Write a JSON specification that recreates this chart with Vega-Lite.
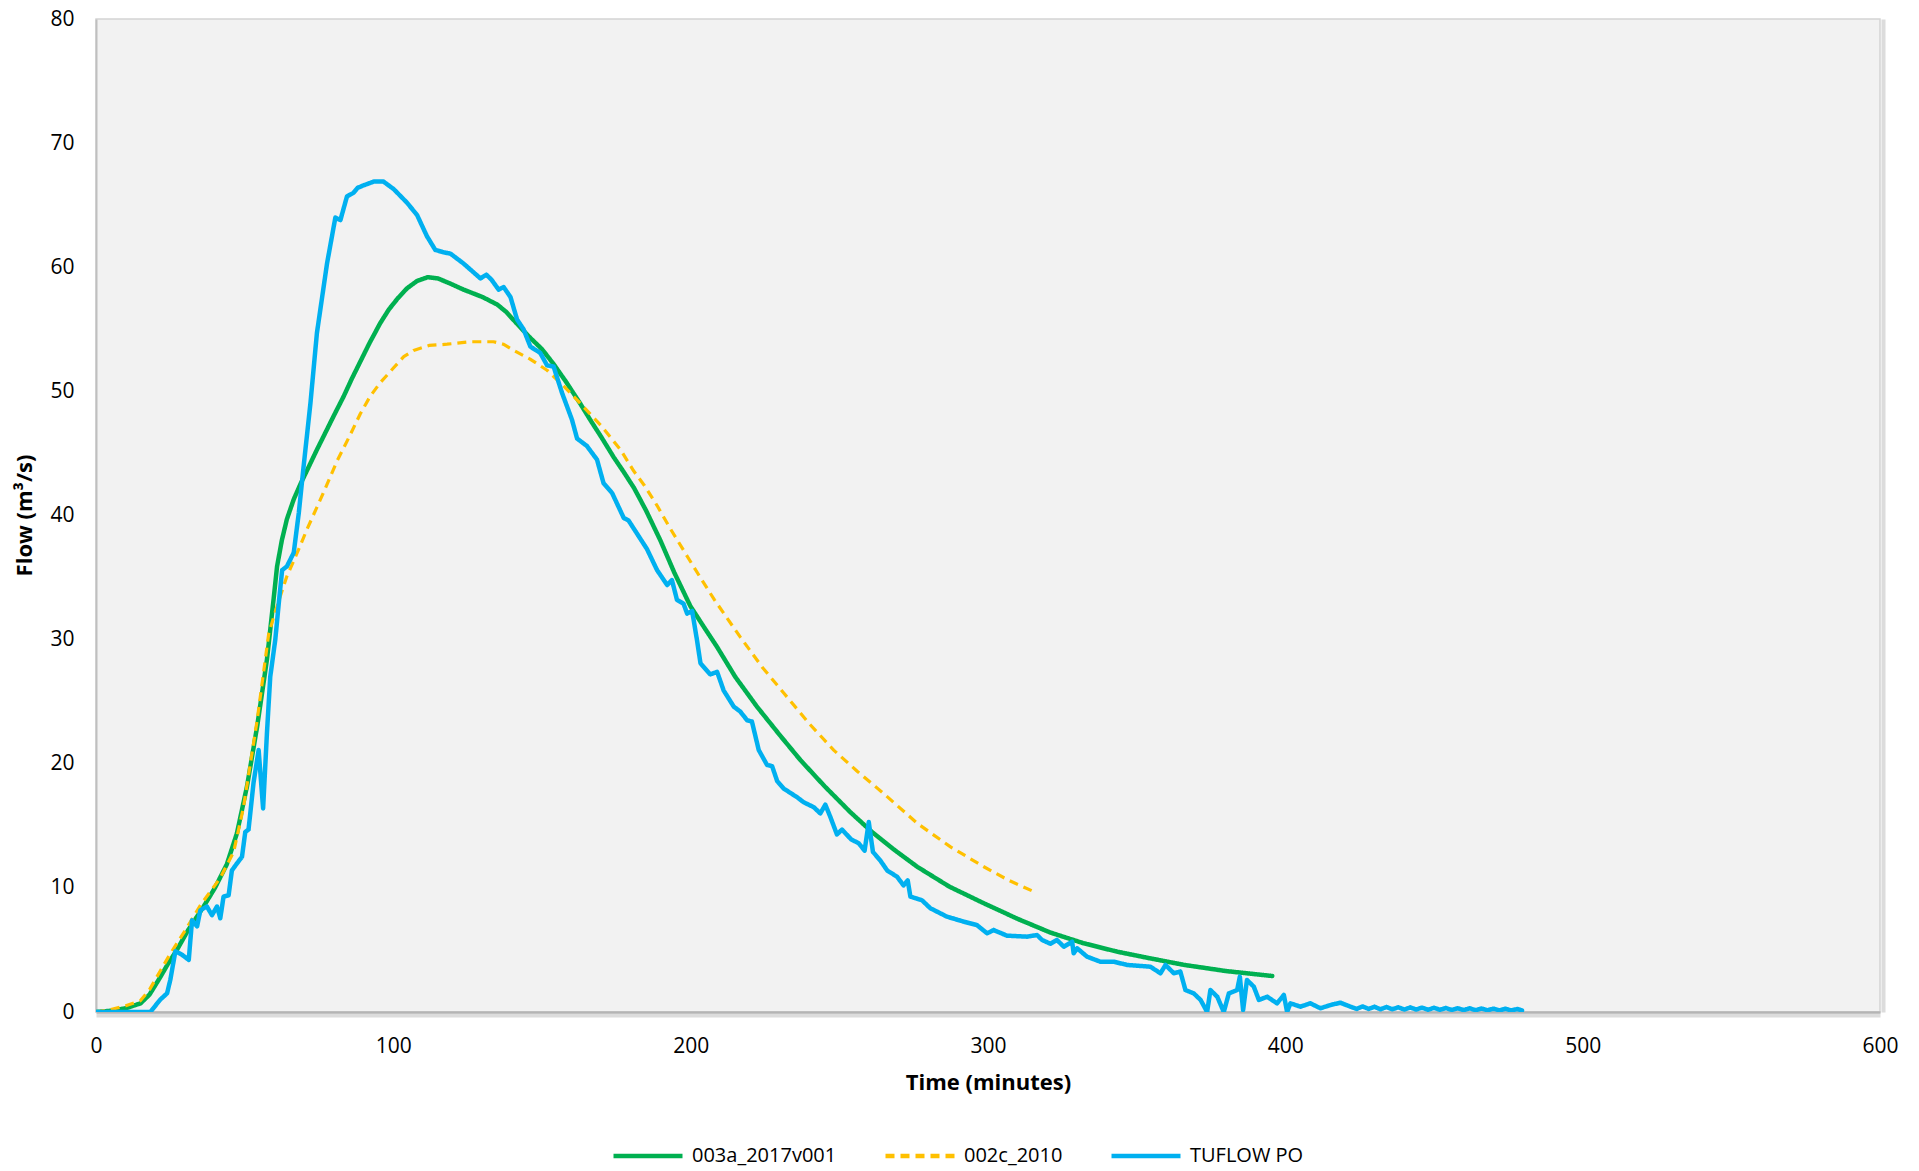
{
  "$schema": "https://vega.github.io/schema/vega-lite/v6.json",
  "autosize": "none",
  "width": 1784,
  "height": 993,
  "padding": {"left": 96, "top": 19, "right": 39, "bottom": 159},
  "background": "white",
  "config": {
    "font": "Open Sans",
    "view": {"fill": "#f2f2f2", "stroke": "#d4d4d4", "strokeWidth": 1.5},
    "axis": {
      "labelFont": "Open Sans",
      "labelFontSize": 21,
      "labelColor": "#000000",
      "labelFlush": false,
      "titleFont": "Open Sans",
      "titleFontSize": 22,
      "titleFontWeight": "bold",
      "titleColor": "#000000",
      "gridColor": "#d9d9d9",
      "gridWidth": 1.5,
      "tickSize": 0,
      "ticks": false
    },
    "legend": {
      "orient": "none",
      "legendX": 515,
      "legendY": 1100,
      "direction": "horizontal",
      "symbolType": "stroke",
      "symbolSize": 4761,
      "symbolStrokeWidth": 4.5,
      "labelFont": "Open Sans",
      "labelFontSize": 20,
      "labelColor": "#000000",
      "labelOffset": 7,
      "columnPadding": 39,
      "title": null
    }
  },
  "datasets": {
    "flows": [
      {"series": "003a_2017v001", "t": 0, "q": 0},
      {"series": "003a_2017v001", "t": 5, "q": 0.1},
      {"series": "003a_2017v001", "t": 10, "q": 0.3},
      {"series": "003a_2017v001", "t": 15, "q": 0.7},
      {"series": "003a_2017v001", "t": 18, "q": 1.4},
      {"series": "003a_2017v001", "t": 21.6, "q": 2.8},
      {"series": "003a_2017v001", "t": 24, "q": 3.8},
      {"series": "003a_2017v001", "t": 27.2, "q": 5.0},
      {"series": "003a_2017v001", "t": 31, "q": 6.6},
      {"series": "003a_2017v001", "t": 36.2, "q": 8.5},
      {"series": "003a_2017v001", "t": 40, "q": 10.0},
      {"series": "003a_2017v001", "t": 44, "q": 11.9},
      {"series": "003a_2017v001", "t": 47.4, "q": 14.4},
      {"series": "003a_2017v001", "t": 50.8, "q": 18.2},
      {"series": "003a_2017v001", "t": 54.2, "q": 23.0},
      {"series": "003a_2017v001", "t": 57.5, "q": 28.4},
      {"series": "003a_2017v001", "t": 59.7, "q": 33.2},
      {"series": "003a_2017v001", "t": 60.9, "q": 35.9},
      {"series": "003a_2017v001", "t": 62.5, "q": 38.0},
      {"series": "003a_2017v001", "t": 64.2, "q": 39.7},
      {"series": "003a_2017v001", "t": 66.5, "q": 41.3},
      {"series": "003a_2017v001", "t": 68.7, "q": 42.5},
      {"series": "003a_2017v001", "t": 71.5, "q": 43.9},
      {"series": "003a_2017v001", "t": 74.3, "q": 45.3},
      {"series": "003a_2017v001", "t": 77, "q": 46.6},
      {"series": "003a_2017v001", "t": 79.9, "q": 48.0},
      {"series": "003a_2017v001", "t": 83.3, "q": 49.6},
      {"series": "003a_2017v001", "t": 86, "q": 51.0},
      {"series": "003a_2017v001", "t": 88.9, "q": 52.4},
      {"series": "003a_2017v001", "t": 92, "q": 53.9},
      {"series": "003a_2017v001", "t": 95.6, "q": 55.5},
      {"series": "003a_2017v001", "t": 98.5, "q": 56.6},
      {"series": "003a_2017v001", "t": 101.5, "q": 57.5},
      {"series": "003a_2017v001", "t": 104.6, "q": 58.3},
      {"series": "003a_2017v001", "t": 108, "q": 58.9},
      {"series": "003a_2017v001", "t": 111.6, "q": 59.2},
      {"series": "003a_2017v001", "t": 115, "q": 59.1},
      {"series": "003a_2017v001", "t": 119, "q": 58.7},
      {"series": "003a_2017v001", "t": 123.6, "q": 58.2},
      {"series": "003a_2017v001", "t": 130, "q": 57.6},
      {"series": "003a_2017v001", "t": 134.9, "q": 57.0},
      {"series": "003a_2017v001", "t": 138, "q": 56.4},
      {"series": "003a_2017v001", "t": 141, "q": 55.6},
      {"series": "003a_2017v001", "t": 146.1, "q": 54.3},
      {"series": "003a_2017v001", "t": 150, "q": 53.4},
      {"series": "003a_2017v001", "t": 153.9, "q": 52.2},
      {"series": "003a_2017v001", "t": 158, "q": 50.8},
      {"series": "003a_2017v001", "t": 162.9, "q": 49.0},
      {"series": "003a_2017v001", "t": 166.5, "q": 47.6},
      {"series": "003a_2017v001", "t": 170, "q": 46.3},
      {"series": "003a_2017v001", "t": 174.1, "q": 44.7},
      {"series": "003a_2017v001", "t": 177.5, "q": 43.5},
      {"series": "003a_2017v001", "t": 181, "q": 42.2},
      {"series": "003a_2017v001", "t": 185, "q": 40.4},
      {"series": "003a_2017v001", "t": 189.8, "q": 38.0},
      {"series": "003a_2017v001", "t": 194.5, "q": 35.4},
      {"series": "003a_2017v001", "t": 199.9, "q": 32.7},
      {"series": "003a_2017v001", "t": 204.5, "q": 31.0},
      {"series": "003a_2017v001", "t": 208.9, "q": 29.4},
      {"series": "003a_2017v001", "t": 215, "q": 27.0},
      {"series": "003a_2017v001", "t": 222.3, "q": 24.6},
      {"series": "003a_2017v001", "t": 230, "q": 22.3},
      {"series": "003a_2017v001", "t": 236.9, "q": 20.3},
      {"series": "003a_2017v001", "t": 245, "q": 18.2},
      {"series": "003a_2017v001", "t": 253.7, "q": 16.1},
      {"series": "003a_2017v001", "t": 261, "q": 14.5},
      {"series": "003a_2017v001", "t": 268.3, "q": 13.1},
      {"series": "003a_2017v001", "t": 276.2, "q": 11.7},
      {"series": "003a_2017v001", "t": 287, "q": 10.1},
      {"series": "003a_2017v001", "t": 298.6, "q": 8.76},
      {"series": "003a_2017v001", "t": 310, "q": 7.5},
      {"series": "003a_2017v001", "t": 321, "q": 6.4},
      {"series": "003a_2017v001", "t": 332, "q": 5.55},
      {"series": "003a_2017v001", "t": 343.4, "q": 4.86},
      {"series": "003a_2017v001", "t": 355, "q": 4.3},
      {"series": "003a_2017v001", "t": 365.8, "q": 3.8},
      {"series": "003a_2017v001", "t": 380, "q": 3.3},
      {"series": "003a_2017v001", "t": 395.6, "q": 2.9},

      {"series": "002c_2010", "t": 0, "q": 0},
      {"series": "002c_2010", "t": 5, "q": 0.2},
      {"series": "002c_2010", "t": 10, "q": 0.5},
      {"series": "002c_2010", "t": 14.9, "q": 0.9},
      {"series": "002c_2010", "t": 18, "q": 1.8},
      {"series": "002c_2010", "t": 21.6, "q": 3.3},
      {"series": "002c_2010", "t": 25, "q": 4.7},
      {"series": "002c_2010", "t": 30.6, "q": 6.8},
      {"series": "002c_2010", "t": 35.1, "q": 8.6},
      {"series": "002c_2010", "t": 41.8, "q": 10.8},
      {"series": "002c_2010", "t": 46.3, "q": 12.9},
      {"series": "002c_2010", "t": 49.6, "q": 16.5},
      {"series": "002c_2010", "t": 54.2, "q": 23.5},
      {"series": "002c_2010", "t": 58.1, "q": 30.5},
      {"series": "002c_2010", "t": 60.9, "q": 32.7},
      {"series": "002c_2010", "t": 64.2, "q": 35.1},
      {"series": "002c_2010", "t": 67.5, "q": 36.9},
      {"series": "002c_2010", "t": 71, "q": 38.9},
      {"series": "002c_2010", "t": 76.6, "q": 41.9},
      {"series": "002c_2010", "t": 81.1, "q": 44.4},
      {"series": "002c_2010", "t": 85.5, "q": 46.5},
      {"series": "002c_2010", "t": 88.9, "q": 48.2},
      {"series": "002c_2010", "t": 92.2, "q": 49.6},
      {"series": "002c_2010", "t": 95.6, "q": 50.7},
      {"series": "002c_2010", "t": 100.1, "q": 51.9},
      {"series": "002c_2010", "t": 103.5, "q": 52.8},
      {"series": "002c_2010", "t": 106.8, "q": 53.3},
      {"series": "002c_2010", "t": 112, "q": 53.7},
      {"series": "002c_2010", "t": 118.1, "q": 53.8},
      {"series": "002c_2010", "t": 126, "q": 54.0},
      {"series": "002c_2010", "t": 133.7, "q": 54.0},
      {"series": "002c_2010", "t": 137, "q": 53.8},
      {"series": "002c_2010", "t": 140.5, "q": 53.3},
      {"series": "002c_2010", "t": 146, "q": 52.6},
      {"series": "002c_2010", "t": 151.7, "q": 51.7},
      {"series": "002c_2010", "t": 157, "q": 50.5},
      {"series": "002c_2010", "t": 163, "q": 49.0},
      {"series": "002c_2010", "t": 170, "q": 47.2},
      {"series": "002c_2010", "t": 176.4, "q": 45.3},
      {"series": "002c_2010", "t": 180.8, "q": 43.6},
      {"series": "002c_2010", "t": 184.5, "q": 42.4},
      {"series": "002c_2010", "t": 188.7, "q": 40.8},
      {"series": "002c_2010", "t": 193, "q": 39.0},
      {"series": "002c_2010", "t": 197.6, "q": 37.2},
      {"series": "002c_2010", "t": 203, "q": 35.1},
      {"series": "002c_2010", "t": 208, "q": 33.2},
      {"series": "002c_2010", "t": 216.7, "q": 30.2},
      {"series": "002c_2010", "t": 224, "q": 27.8},
      {"series": "002c_2010", "t": 231.3, "q": 25.7},
      {"series": "002c_2010", "t": 240, "q": 23.2},
      {"series": "002c_2010", "t": 248.1, "q": 21.1},
      {"series": "002c_2010", "t": 256, "q": 19.4},
      {"series": "002c_2010", "t": 264.9, "q": 17.6},
      {"series": "002c_2010", "t": 276.2, "q": 15.2},
      {"series": "002c_2010", "t": 287.4, "q": 13.3},
      {"series": "002c_2010", "t": 298.6, "q": 11.7},
      {"series": "002c_2010", "t": 307, "q": 10.6},
      {"series": "002c_2010", "t": 315.9, "q": 9.65},

      {"series": "TUFLOW PO", "t": 0, "q": 0},
      {"series": "TUFLOW PO", "t": 10, "q": 0},
      {"series": "TUFLOW PO", "t": 18.3, "q": 0},
      {"series": "TUFLOW PO", "t": 21.6, "q": 1.0},
      {"series": "TUFLOW PO", "t": 23.9, "q": 1.5},
      {"series": "TUFLOW PO", "t": 25, "q": 2.6},
      {"series": "TUFLOW PO", "t": 26.7, "q": 4.9},
      {"series": "TUFLOW PO", "t": 29, "q": 4.6},
      {"series": "TUFLOW PO", "t": 31.2, "q": 4.2},
      {"series": "TUFLOW PO", "t": 32.3, "q": 7.4},
      {"series": "TUFLOW PO", "t": 34, "q": 6.9},
      {"series": "TUFLOW PO", "t": 35.1, "q": 8.2},
      {"series": "TUFLOW PO", "t": 37.3, "q": 8.5},
      {"series": "TUFLOW PO", "t": 39, "q": 7.8},
      {"series": "TUFLOW PO", "t": 40.7, "q": 8.5},
      {"series": "TUFLOW PO", "t": 41.8, "q": 7.55},
      {"series": "TUFLOW PO", "t": 42.9, "q": 9.3},
      {"series": "TUFLOW PO", "t": 44.6, "q": 9.4},
      {"series": "TUFLOW PO", "t": 45.7, "q": 11.4},
      {"series": "TUFLOW PO", "t": 47.5, "q": 12.0},
      {"series": "TUFLOW PO", "t": 49.1, "q": 12.5},
      {"series": "TUFLOW PO", "t": 50.2, "q": 14.5},
      {"series": "TUFLOW PO", "t": 51.3, "q": 14.7},
      {"series": "TUFLOW PO", "t": 53, "q": 18.5},
      {"series": "TUFLOW PO", "t": 54.7, "q": 21.1},
      {"series": "TUFLOW PO", "t": 56.2, "q": 16.4},
      {"series": "TUFLOW PO", "t": 57.5, "q": 22.5},
      {"series": "TUFLOW PO", "t": 58.6, "q": 27.0},
      {"series": "TUFLOW PO", "t": 60.3, "q": 30.0},
      {"series": "TUFLOW PO", "t": 61.5, "q": 33.0},
      {"series": "TUFLOW PO", "t": 62.6, "q": 35.6},
      {"series": "TUFLOW PO", "t": 64.2, "q": 35.9},
      {"series": "TUFLOW PO", "t": 66.5, "q": 37.0},
      {"series": "TUFLOW PO", "t": 68.2, "q": 40.2},
      {"series": "TUFLOW PO", "t": 69.8, "q": 43.9},
      {"series": "TUFLOW PO", "t": 72.1, "q": 49.0},
      {"series": "TUFLOW PO", "t": 74.3, "q": 54.7},
      {"series": "TUFLOW PO", "t": 77.7, "q": 60.3},
      {"series": "TUFLOW PO", "t": 80.5, "q": 64.0},
      {"series": "TUFLOW PO", "t": 82.2, "q": 63.8},
      {"series": "TUFLOW PO", "t": 84.4, "q": 65.7},
      {"series": "TUFLOW PO", "t": 86.6, "q": 66.0},
      {"series": "TUFLOW PO", "t": 88, "q": 66.4},
      {"series": "TUFLOW PO", "t": 90, "q": 66.6},
      {"series": "TUFLOW PO", "t": 93.4, "q": 66.9},
      {"series": "TUFLOW PO", "t": 96.7, "q": 66.9},
      {"series": "TUFLOW PO", "t": 100.1, "q": 66.3},
      {"series": "TUFLOW PO", "t": 104.6, "q": 65.2},
      {"series": "TUFLOW PO", "t": 108, "q": 64.2},
      {"series": "TUFLOW PO", "t": 111.3, "q": 62.5},
      {"series": "TUFLOW PO", "t": 114.1, "q": 61.4},
      {"series": "TUFLOW PO", "t": 116.9, "q": 61.2},
      {"series": "TUFLOW PO", "t": 119.2, "q": 61.1},
      {"series": "TUFLOW PO", "t": 123.6, "q": 60.3},
      {"series": "TUFLOW PO", "t": 129.3, "q": 59.1},
      {"series": "TUFLOW PO", "t": 131.3, "q": 59.4},
      {"series": "TUFLOW PO", "t": 133, "q": 59.0},
      {"series": "TUFLOW PO", "t": 135.4, "q": 58.2},
      {"series": "TUFLOW PO", "t": 137.1, "q": 58.4},
      {"series": "TUFLOW PO", "t": 139.4, "q": 57.6},
      {"series": "TUFLOW PO", "t": 141.6, "q": 55.8},
      {"series": "TUFLOW PO", "t": 143.8, "q": 55.0},
      {"series": "TUFLOW PO", "t": 146.1, "q": 53.6},
      {"series": "TUFLOW PO", "t": 149.4, "q": 53.1},
      {"series": "TUFLOW PO", "t": 151.7, "q": 52.1},
      {"series": "TUFLOW PO", "t": 153.9, "q": 52.0},
      {"series": "TUFLOW PO", "t": 156.7, "q": 49.9},
      {"series": "TUFLOW PO", "t": 160.1, "q": 47.7},
      {"series": "TUFLOW PO", "t": 161.8, "q": 46.2},
      {"series": "TUFLOW PO", "t": 165.1, "q": 45.6},
      {"series": "TUFLOW PO", "t": 168.5, "q": 44.5},
      {"series": "TUFLOW PO", "t": 170.7, "q": 42.6},
      {"series": "TUFLOW PO", "t": 173.6, "q": 41.8},
      {"series": "TUFLOW PO", "t": 177.5, "q": 39.8},
      {"series": "TUFLOW PO", "t": 179.1, "q": 39.6},
      {"series": "TUFLOW PO", "t": 185.3, "q": 37.3},
      {"series": "TUFLOW PO", "t": 188.7, "q": 35.6},
      {"series": "TUFLOW PO", "t": 192.1, "q": 34.4},
      {"series": "TUFLOW PO", "t": 193.7, "q": 34.8},
      {"series": "TUFLOW PO", "t": 195.4, "q": 33.2},
      {"series": "TUFLOW PO", "t": 197.6, "q": 32.9},
      {"series": "TUFLOW PO", "t": 198.8, "q": 32.1},
      {"series": "TUFLOW PO", "t": 200.5, "q": 32.3},
      {"series": "TUFLOW PO", "t": 202.1, "q": 30.0},
      {"series": "TUFLOW PO", "t": 203.3, "q": 28.1},
      {"series": "TUFLOW PO", "t": 206.6, "q": 27.2},
      {"series": "TUFLOW PO", "t": 208.9, "q": 27.4},
      {"series": "TUFLOW PO", "t": 211.1, "q": 25.9},
      {"series": "TUFLOW PO", "t": 214.5, "q": 24.6},
      {"series": "TUFLOW PO", "t": 216.7, "q": 24.2},
      {"series": "TUFLOW PO", "t": 219, "q": 23.5},
      {"series": "TUFLOW PO", "t": 220.6, "q": 23.4},
      {"series": "TUFLOW PO", "t": 222.9, "q": 21.1},
      {"series": "TUFLOW PO", "t": 225.7, "q": 19.9},
      {"series": "TUFLOW PO", "t": 227.4, "q": 19.8},
      {"series": "TUFLOW PO", "t": 229.1, "q": 18.6},
      {"series": "TUFLOW PO", "t": 231.3, "q": 18.0},
      {"series": "TUFLOW PO", "t": 235.8, "q": 17.3},
      {"series": "TUFLOW PO", "t": 238, "q": 16.9},
      {"series": "TUFLOW PO", "t": 241.4, "q": 16.5},
      {"series": "TUFLOW PO", "t": 243.6, "q": 16.0},
      {"series": "TUFLOW PO", "t": 245.3, "q": 16.7},
      {"series": "TUFLOW PO", "t": 247, "q": 15.7},
      {"series": "TUFLOW PO", "t": 249.2, "q": 14.3},
      {"series": "TUFLOW PO", "t": 250.9, "q": 14.7},
      {"series": "TUFLOW PO", "t": 254, "q": 13.9},
      {"series": "TUFLOW PO", "t": 256.5, "q": 13.6},
      {"series": "TUFLOW PO", "t": 258.5, "q": 13.0},
      {"series": "TUFLOW PO", "t": 259.9, "q": 15.3},
      {"series": "TUFLOW PO", "t": 261.3, "q": 12.9},
      {"series": "TUFLOW PO", "t": 263.8, "q": 12.2},
      {"series": "TUFLOW PO", "t": 266.1, "q": 11.4},
      {"series": "TUFLOW PO", "t": 269.4, "q": 10.9},
      {"series": "TUFLOW PO", "t": 271.6, "q": 10.2},
      {"series": "TUFLOW PO", "t": 273, "q": 10.6},
      {"series": "TUFLOW PO", "t": 273.9, "q": 9.3},
      {"series": "TUFLOW PO", "t": 277.8, "q": 9.0},
      {"series": "TUFLOW PO", "t": 280.6, "q": 8.36},
      {"series": "TUFLOW PO", "t": 286.2, "q": 7.68},
      {"series": "TUFLOW PO", "t": 291.8, "q": 7.28},
      {"series": "TUFLOW PO", "t": 296.3, "q": 7.0},
      {"series": "TUFLOW PO", "t": 299.7, "q": 6.34},
      {"series": "TUFLOW PO", "t": 301.9, "q": 6.6},
      {"series": "TUFLOW PO", "t": 306.4, "q": 6.15},
      {"series": "TUFLOW PO", "t": 313.1, "q": 6.07},
      {"series": "TUFLOW PO", "t": 316.5, "q": 6.2},
      {"series": "TUFLOW PO", "t": 318.2, "q": 5.8},
      {"series": "TUFLOW PO", "t": 321, "q": 5.5},
      {"series": "TUFLOW PO", "t": 323.2, "q": 5.8},
      {"series": "TUFLOW PO", "t": 325.5, "q": 5.26},
      {"series": "TUFLOW PO", "t": 328.3, "q": 5.66},
      {"series": "TUFLOW PO", "t": 328.8, "q": 4.73},
      {"series": "TUFLOW PO", "t": 330, "q": 5.13},
      {"series": "TUFLOW PO", "t": 333.3, "q": 4.46},
      {"series": "TUFLOW PO", "t": 337.8, "q": 4.05},
      {"series": "TUFLOW PO", "t": 342.3, "q": 4.05},
      {"series": "TUFLOW PO", "t": 346.8, "q": 3.79},
      {"series": "TUFLOW PO", "t": 354.6, "q": 3.65},
      {"series": "TUFLOW PO", "t": 358, "q": 3.12},
      {"series": "TUFLOW PO", "t": 359.7, "q": 3.79},
      {"series": "TUFLOW PO", "t": 362.5, "q": 3.12},
      {"series": "TUFLOW PO", "t": 364.7, "q": 3.25},
      {"series": "TUFLOW PO", "t": 366.4, "q": 1.77},
      {"series": "TUFLOW PO", "t": 369.2, "q": 1.5},
      {"series": "TUFLOW PO", "t": 371.5, "q": 0.97},
      {"series": "TUFLOW PO", "t": 373.7, "q": 0.0},
      {"series": "TUFLOW PO", "t": 374.8, "q": 1.77},
      {"series": "TUFLOW PO", "t": 377.1, "q": 1.23},
      {"series": "TUFLOW PO", "t": 379.3, "q": 0.0},
      {"series": "TUFLOW PO", "t": 381, "q": 1.5},
      {"series": "TUFLOW PO", "t": 383.8, "q": 1.77},
      {"series": "TUFLOW PO", "t": 384.7, "q": 2.85},
      {"series": "TUFLOW PO", "t": 385.8, "q": 0.16},
      {"series": "TUFLOW PO", "t": 387.1, "q": 2.58},
      {"series": "TUFLOW PO", "t": 389.4, "q": 2.04},
      {"series": "TUFLOW PO", "t": 391.1, "q": 0.97},
      {"series": "TUFLOW PO", "t": 393.9, "q": 1.23},
      {"series": "TUFLOW PO", "t": 397.2, "q": 0.7},
      {"series": "TUFLOW PO", "t": 399.5, "q": 1.37},
      {"series": "TUFLOW PO", "t": 400.6, "q": 0.0},
      {"series": "TUFLOW PO", "t": 401.7, "q": 0.7},
      {"series": "TUFLOW PO", "t": 405.1, "q": 0.43},
      {"series": "TUFLOW PO", "t": 408.4, "q": 0.7},
      {"series": "TUFLOW PO", "t": 411.8, "q": 0.3},
      {"series": "TUFLOW PO", "t": 415.2, "q": 0.56},
      {"series": "TUFLOW PO", "t": 418.5, "q": 0.75},
      {"series": "TUFLOW PO", "t": 421.9, "q": 0.43},
      {"series": "TUFLOW PO", "t": 424, "q": 0.25},
      {"series": "TUFLOW PO", "t": 426, "q": 0.45},
      {"series": "TUFLOW PO", "t": 428, "q": 0.25},
      {"series": "TUFLOW PO", "t": 430, "q": 0.42},
      {"series": "TUFLOW PO", "t": 432, "q": 0.22},
      {"series": "TUFLOW PO", "t": 434, "q": 0.4},
      {"series": "TUFLOW PO", "t": 436, "q": 0.22},
      {"series": "TUFLOW PO", "t": 438, "q": 0.38},
      {"series": "TUFLOW PO", "t": 440, "q": 0.2},
      {"series": "TUFLOW PO", "t": 442, "q": 0.37},
      {"series": "TUFLOW PO", "t": 444, "q": 0.2},
      {"series": "TUFLOW PO", "t": 446, "q": 0.35},
      {"series": "TUFLOW PO", "t": 448, "q": 0.18},
      {"series": "TUFLOW PO", "t": 450, "q": 0.34},
      {"series": "TUFLOW PO", "t": 452, "q": 0.18},
      {"series": "TUFLOW PO", "t": 454, "q": 0.32},
      {"series": "TUFLOW PO", "t": 456, "q": 0.16},
      {"series": "TUFLOW PO", "t": 458, "q": 0.3},
      {"series": "TUFLOW PO", "t": 460, "q": 0.15},
      {"series": "TUFLOW PO", "t": 462, "q": 0.3},
      {"series": "TUFLOW PO", "t": 464, "q": 0.14},
      {"series": "TUFLOW PO", "t": 466, "q": 0.28},
      {"series": "TUFLOW PO", "t": 468, "q": 0.13},
      {"series": "TUFLOW PO", "t": 470, "q": 0.27},
      {"series": "TUFLOW PO", "t": 472, "q": 0.12},
      {"series": "TUFLOW PO", "t": 474, "q": 0.26},
      {"series": "TUFLOW PO", "t": 476, "q": 0.12},
      {"series": "TUFLOW PO", "t": 478, "q": 0.24},
      {"series": "TUFLOW PO", "t": 479.6, "q": 0.12}
    ]
  },
  "data": {"name": "flows"},
  "resolve": {"axis": {"x": "independent", "y": "independent"}},
  "layer": [
    {
      "transform": [{"filter": "datum.series === '003a_2017v001'"}],
      "mark": {"type": "line", "strokeWidth": 4.5, "strokeCap": "round", "strokeJoin": "round", "clip": true},
      "encoding": {
        "x": {
          "field": "t", "type": "quantitative",
          "scale": {"domain": [0, 600], "nice": false, "zero": false},
          "axis": {
            "orient": "bottom", "offset": 3, "grid": false, "labels": false, "title": null,
            "domainColor": "#dcdcdc", "domainWidth": 4
          }
        },
        "y": {
          "field": "q", "type": "quantitative",
          "scale": {"domain": [0, 80], "nice": false},
          "axis": {
            "orient": "right", "offset": 3, "grid": false, "labels": false, "title": null,
            "domainColor": "#dcdcdc", "domainWidth": 4
          }
        },
        "color": {
          "field": "series", "type": "nominal",
          "scale": {"domain": ["003a_2017v001", "002c_2010", "TUFLOW PO"], "range": ["#00b050", "#ffc000", "#00b0f0"]}
        },
        "strokeDash": {
          "field": "series", "type": "nominal",
          "scale": {"domain": ["003a_2017v001", "002c_2010", "TUFLOW PO"], "range": [[1, 0], [9, 6], [1, 0]]}
        }
      }
    },
    {
      "transform": [{"filter": "datum.series === '002c_2010'"}],
      "mark": {"type": "line", "strokeWidth": 3.2, "strokeCap": "butt", "strokeJoin": "round", "clip": true},
      "encoding": {
        "x": {
          "field": "t", "type": "quantitative", "title": "Time (minutes)",
          "scale": {"domain": [0, 600], "nice": false, "zero": false},
          "axis": {
            "orient": "bottom",
            "values": [0, 100, 200, 300, 400, 500, 600],
            "domainColor": "#b4b4b4",
            "domainWidth": 2.5,
            "labelPadding": 23,
            "titleY": 70,
            "titleBaseline": "middle"
          }
        },
        "y": {
          "field": "q", "type": "quantitative", "title": "Flow (m³/s)",
          "scale": {"domain": [0, 80], "nice": false},
          "axis": {
            "orient": "left",
            "values": [0, 10, 20, 30, 40, 50, 60, 70, 80],
            "domainColor": "#bfbfbf",
            "domainWidth": 2,
            "labelPadding": 22,
            "titleX": -72,
            "titleY": 496,
            "titleAngle": -90,
            "titleAlign": "center",
            "titleBaseline": "middle"
          }
        },
        "color": {"field": "series", "type": "nominal"},
        "strokeDash": {"field": "series", "type": "nominal"}
      }
    },
    {
      "transform": [{"filter": "datum.series === 'TUFLOW PO'"}],
      "mark": {"type": "line", "strokeWidth": 4.5, "strokeCap": "round", "strokeJoin": "round", "clip": true},
      "encoding": {
        "x": {"field": "t", "type": "quantitative", "scale": {"domain": [0, 600], "nice": false, "zero": false}, "axis": null},
        "y": {"field": "q", "type": "quantitative", "scale": {"domain": [0, 80], "nice": false}, "axis": null},
        "color": {"field": "series", "type": "nominal"},
        "strokeDash": {"field": "series", "type": "nominal"}
      }
    }
  ]
}
